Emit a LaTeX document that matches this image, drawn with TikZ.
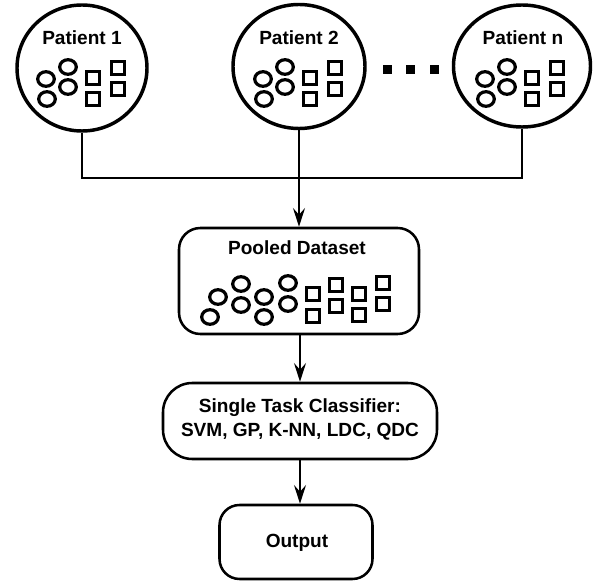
\documentclass[tikz,border=0pt]{standalone}
\usepackage{fontspec}
\setmainfont{Liberation Sans}
\usetikzlibrary{shapes.geometric,arrows.meta}
\tikzset{
  patient/.style={draw, ellipse, line width=2.6pt, inner sep=0pt},
  stagebox/.style={draw, rectangle, line width=1.9pt, inner sep=0pt, align=center},
  title/.style={anchor=base, inner sep=0pt, align=center},
  link/.style={line width=1.7pt},
  arrowlink/.style={line width=1.7pt, -{Stealth[length=14pt, width=9pt, inset=5pt]}},
  sample/.style={line width=2.4pt},
  % one round sample and one square sample
  pics/roundsample/.style={code={\draw[sample] (0,0) ellipse [x radius=8.3, y radius=7.3];}},
  pics/squaresample/.style={code={\draw[sample] (-6.5,-6.5) rectangle (6.5,6.5);}},
  % the small set of samples drawn inside each patient
  pics/patientset/.style={code={
    \pic at (-37,11) {roundsample};
    \pic at (-15,-1) {roundsample};
    \pic at (-15,19) {roundsample};
    \pic at (-36,31) {roundsample};
    \pic at (10,10) {squaresample};
    \pic at (10,31) {squaresample};
    \pic at (35,0) {squaresample};
    \pic at (35,21) {squaresample};
  }},
}
\begin{document}
\begin{tikzpicture}[x=0.75pt, y=-0.75pt, font=\fontsize{14.3pt}{18pt}\selectfont\bfseries]
\useasboundingbox (0,0) rectangle (594,581);

% patients
\node[patient, minimum width=97.5pt, minimum height=94.5pt] (p1) at (82,68) {};
\node[patient, minimum width=99pt, minimum height=93pt] (p2) at (299,66.5) {};
\node[patient, minimum width=102.75pt, minimum height=91.5pt] (pn) at (522,66) {};

\node[title] (t1) at (82,45) {Patient 1};
\node[title] (t2) at (299,45) {Patient 2};
\node[title] (tn) at (523,45) {Patient n};

\pic at (83,68) {patientset};
\pic at (300,68) {patientset};
\pic at (522,68) {patientset};

% ellipsis between patient 2 and patient n
\fill (383,65) rectangle (392,74);
\fill (406,65) rectangle (415,74);
\fill (430,65) rectangle (439,74);

% pooled dataset
\node[stagebox, minimum width=180pt, minimum height=79.5pt, rounded corners=16pt] (pool) at (299,281) {};
\node[title] (tpool) at (297,255) {Pooled Dataset};
\foreach \cx/\cy in {210/317, 218/297, 241/284, 241/305, 264/297, 264/317, 288/283, 288/304}
  \pic at (\cx,\cy) {roundsample};
\foreach \sx/\sy in {313/294, 313/316, 336/285, 336/306, 359/294, 359/315, 383/283, 383/304}
  \pic at (\sx,\sy) {squaresample};

% classifier and output
\node[stagebox, minimum width=205.5pt, minimum height=57pt, rounded corners=22pt] (cls) at (300,421) {};
\node[title] (tcls) at (300,437) {Single Task Classifier:\\SVM, GP, K-NN, LDC, QDC};
\node[stagebox, minimum width=114.75pt, minimum height=55.5pt, rounded corners=15pt] (out) at (296,542) {};
\node[title] (tout) at (297,548) {Output};

% connectors
\coordinate (join) at (299,178);
\draw[link] (p1.south) |- (join) -| (pn.south);
\draw[arrowlink] (p2.south) -- (pool.north);
\draw[arrowlink] (pool.south -| cls.north) -- (cls.north);
\draw[arrowlink] (cls.south) -- (cls.south |- out.north);
\end{tikzpicture}
\end{document}
